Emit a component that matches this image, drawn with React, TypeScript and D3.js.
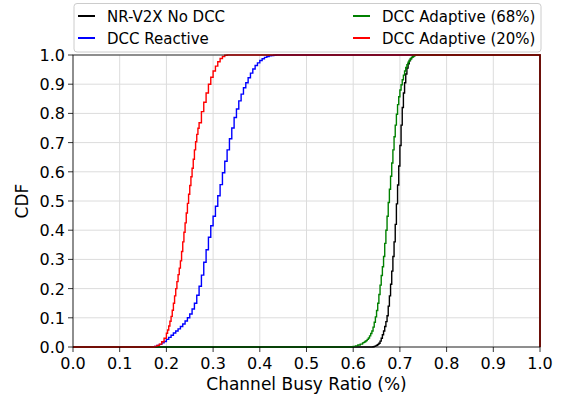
import React from "react";
import * as d3 from "d3";

const seriesNames = ["NR-V2X No DCC", "DCC Reactive", "DCC Adaptive (68%)", "DCC Adaptive (20%)"];
const seriesColors = ["#000000", "#0000ff", "#008000", "#ff0000"];

const xTicks = [0, 0.1, 0.2, 0.3, 0.4, 0.5, 0.6, 0.7, 0.8, 0.9, 1.0];
const yTicks = [0, 0.1, 0.2, 0.3, 0.4, 0.5, 0.6, 0.7, 0.8, 0.9, 1.0];

// [channel busy ratio, CDF]
const noDcc: [number, number][] = [
  [0.64, 0], [0.6425, 0.001], [0.645, 0.002], [0.6475, 0.004], [0.65, 0.006], [0.6525, 0.009],
  [0.655, 0.013], [0.6575, 0.02], [0.66, 0.03], [0.6625, 0.042], [0.665, 0.055], [0.6675, 0.07],
  [0.67, 0.087], [0.6725, 0.107], [0.675, 0.14], [0.6775, 0.175], [0.68, 0.215], [0.6825, 0.26],
  [0.685, 0.31], [0.6875, 0.36], [0.69, 0.42], [0.6925, 0.49], [0.695, 0.555], [0.6975, 0.62],
  [0.7, 0.69], [0.7025, 0.76], [0.705, 0.82], [0.7075, 0.87], [0.71, 0.905], [0.7125, 0.935],
  [0.715, 0.955], [0.7175, 0.97], [0.72, 0.98], [0.7225, 0.987], [0.725, 0.992], [0.7275, 0.996],
  [0.73, 0.998], [0.7325, 0.999], [0.735, 1.0],
];

const dccReactive: [number, number][] = [
  [0.17, 0], [0.175, 0.002], [0.18, 0.005], [0.185, 0.009], [0.19, 0.014], [0.195, 0.019],
  [0.2, 0.026], [0.205, 0.033], [0.21, 0.04], [0.215, 0.048], [0.22, 0.055], [0.225, 0.062],
  [0.23, 0.07], [0.235, 0.079], [0.24, 0.089], [0.245, 0.1], [0.25, 0.113], [0.255, 0.13],
  [0.26, 0.15], [0.265, 0.177], [0.27, 0.208], [0.275, 0.246], [0.28, 0.29], [0.285, 0.333],
  [0.29, 0.376], [0.295, 0.415], [0.3, 0.448], [0.305, 0.482], [0.31, 0.518], [0.315, 0.556],
  [0.32, 0.597], [0.325, 0.636], [0.33, 0.675], [0.335, 0.713], [0.34, 0.75], [0.345, 0.786],
  [0.35, 0.815], [0.355, 0.843], [0.36, 0.866], [0.365, 0.888], [0.37, 0.905], [0.375, 0.922],
  [0.38, 0.938], [0.385, 0.952], [0.39, 0.964], [0.395, 0.973], [0.4, 0.981], [0.405, 0.987],
  [0.41, 0.992], [0.415, 0.995], [0.42, 0.997], [0.425, 0.998], [0.43, 0.999], [0.435, 1.0],
];

const dccAdaptive68: [number, number][] = [
  [0.59, 0], [0.595, 0.001], [0.6, 0.002], [0.605, 0.004], [0.61, 0.007], [0.615, 0.01],
  [0.62, 0.014], [0.6225, 0.016], [0.625, 0.019], [0.6275, 0.022], [0.63, 0.026], [0.6325, 0.031],
  [0.635, 0.038], [0.6375, 0.046], [0.64, 0.055], [0.6425, 0.068], [0.645, 0.085], [0.6475, 0.103],
  [0.65, 0.125], [0.6525, 0.15], [0.655, 0.18], [0.6575, 0.212], [0.66, 0.245], [0.6625, 0.275],
  [0.665, 0.31], [0.6675, 0.355], [0.67, 0.4], [0.6725, 0.448], [0.675, 0.495], [0.6775, 0.54],
  [0.68, 0.585], [0.6825, 0.63], [0.685, 0.675], [0.6875, 0.72], [0.69, 0.76], [0.6925, 0.797],
  [0.695, 0.83], [0.6975, 0.857], [0.7, 0.88], [0.7025, 0.898], [0.705, 0.915], [0.7075, 0.931],
  [0.71, 0.945], [0.7125, 0.957], [0.715, 0.967], [0.7175, 0.975], [0.72, 0.982], [0.7225, 0.988],
  [0.725, 0.992], [0.7275, 0.995], [0.73, 0.998], [0.7325, 0.999], [0.735, 1.0],
];

const dccAdaptive20: [number, number][] = [
  [0.17, 0], [0.175, 0.002], [0.18, 0.005], [0.185, 0.01], [0.19, 0.018], [0.195, 0.03],
  [0.2, 0.047], [0.2025, 0.058], [0.205, 0.072], [0.2075, 0.088], [0.21, 0.105], [0.2125, 0.126],
  [0.215, 0.15], [0.2175, 0.175], [0.22, 0.2], [0.2225, 0.224], [0.225, 0.248], [0.2275, 0.27],
  [0.23, 0.295], [0.2325, 0.327], [0.235, 0.36], [0.2375, 0.393], [0.24, 0.425], [0.2425, 0.459],
  [0.245, 0.492], [0.2475, 0.523], [0.25, 0.553], [0.2525, 0.583], [0.255, 0.612], [0.2575, 0.643],
  [0.26, 0.675], [0.2625, 0.703], [0.265, 0.728], [0.2675, 0.749], [0.27, 0.768], [0.275, 0.806],
  [0.28, 0.838], [0.285, 0.87], [0.29, 0.9], [0.295, 0.924], [0.3, 0.945], [0.305, 0.962],
  [0.31, 0.977], [0.315, 0.988], [0.32, 0.995], [0.325, 0.999], [0.33, 1.0],
];

const seriesData = [noDcc, dccReactive, dccAdaptive68, dccAdaptive20];

const W = 565;
const H = 398;
const M = { left: 73, right: 25, top: 55, bottom: 51 };
const FONT = "DejaVu Sans, sans-serif";

export default function App() {
  const x = d3.scaleLinear().domain([0, 1]).range([M.left, W - M.right]);
  const y = d3.scaleLinear().domain([0, 1]).range([H - M.bottom, M.top]);

  const line = d3
    .line<[number, number]>()
    .x((d) => x(d[0]))
    .y((d) => y(d[1]))
    .curve(d3.curveStepAfter);

  const paths = seriesData.map((s) => {
    const pts: [number, number][] = [[0, 0], ...s, [1, 1], [1, 0]];
    return line(pts) || "";
  });

  const legendItems = [
    { i: 0, lx: 78, ty: 16 },
    { i: 1, lx: 78, ty: 38 },
    { i: 2, lx: 353, ty: 16 },
    { i: 3, lx: 353, ty: 38 },
  ];

  return (
    <svg
      width={W}
      height={H}
      style={{ position: "absolute", left: 0, top: 0, background: "#fff" }}
      fontFamily={FONT}
    >
      {/* grid */}
      {xTicks.map((t) => (
        <line key={"gx" + t} x1={x(t)} x2={x(t)} y1={y(0)} y2={y(1)} stroke="#dcdcdc" strokeWidth={1} />
      ))}
      {yTicks.map((t) => (
        <line key={"gy" + t} x1={x(0)} x2={x(1)} y1={y(t)} y2={y(t)} stroke="#dcdcdc" strokeWidth={1} />
      ))}

      {/* curves */}
      {paths.map((p, i) => (
        <path key={"s" + i} d={p} fill="none" stroke={seriesColors[i]} strokeWidth={1.4} strokeLinejoin="miter" />
      ))}

      {/* frame */}
      <rect x={x(0)} y={y(1)} width={x(1) - x(0)} height={y(0) - y(1)} fill="none" stroke="#000" strokeWidth={0.8} />

      {/* x ticks */}
      {xTicks.map((t) => (
        <g key={"tx" + t}>
          <line x1={x(t)} x2={x(t)} y1={y(0)} y2={y(0) + 5} stroke="#000" strokeWidth={0.8} />
          <text x={x(t)} y={y(0) + 22} textAnchor="middle" fontSize={16} fill="#000">
            {t.toFixed(1)}
          </text>
        </g>
      ))}
      {/* y ticks */}
      {yTicks.map((t) => (
        <g key={"ty" + t}>
          <line x1={x(0) - 5} x2={x(0)} y1={y(t)} y2={y(t)} stroke="#000" strokeWidth={0.8} />
          <text x={x(0) - 8} y={y(t) + 6} textAnchor="end" fontSize={16} fill="#000">
            {t.toFixed(1)}
          </text>
        </g>
      ))}

      {/* axis labels */}
      <text x={(x(0) + x(1)) / 2} y={390} textAnchor="middle" fontSize={17} fill="#000">
        Channel Busy Ratio (%)
      </text>
      <text
        transform={`translate(28, ${(y(0) + y(1)) / 2}) rotate(-90)`}
        textAnchor="middle"
        fontSize={17}
        fill="#000"
      >
        CDF
      </text>

      {/* legend */}
      <rect x={74} y={3.5} width={467} height={48.5} rx={3} ry={3} fill="#fff" fillOpacity={0.8} stroke="#cccccc" strokeWidth={1} />
      {legendItems.map((it) => (
        <g key={"lg" + it.i}>
          <line x1={it.lx} x2={it.lx + 17} y1={it.ty} y2={it.ty} stroke={seriesColors[it.i]} strokeWidth={2} />
          <text x={it.lx + 29} y={it.ty + 5.5} fontSize={15} fill="#000">
            {seriesNames[it.i]}
          </text>
        </g>
      ))}
    </svg>
  );
}
